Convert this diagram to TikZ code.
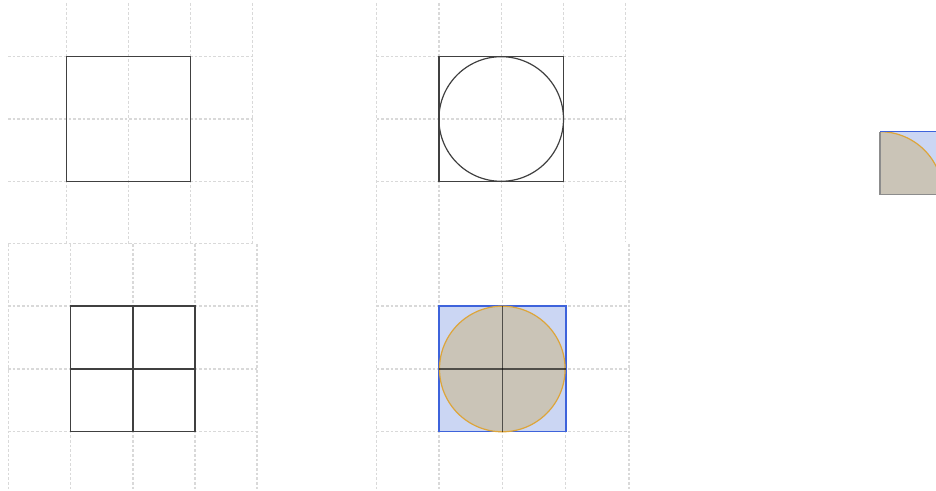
\documentclass[tikz,border=0pt]{standalone}
\usetikzlibrary{positioning}

\definecolor{gitter}{HTML}{D9D9D9}
\definecolor{blau}{HTML}{3E63DB}
\definecolor{hellblau}{HTML}{CBD6F3}
\definecolor{sand}{HTML}{CAC4B7}
\definecolor{gold}{HTML}{DDA53A}
\definecolor{rand}{HTML}{8C8C8C}

\begin{document}
\begin{tikzpicture}[x=0.75pt, y=-0.75pt,
    raster/.style={gitter, line width=0.8pt, dash pattern=on 2pt off 1.5pt},
    linie/.style={black!75, line width=1.1pt}]

    \useasboundingbox (0,0) rectangle (936,491);

    % Gitter
    \foreach \x in {66.7,128.3,190.7,252.7} \draw[raster] (\x,3) -- (\x,243.7);
    \foreach \y in {56.7,119,181.3,243.7} \draw[raster] (8,\y) -- (252.7,\y);
    \foreach \x in {8.3,70.7,133,195,257} \draw[raster] (\x,244) -- (\x,491);
    \foreach \y in {306,369,431.7} \draw[raster] (8,\y) -- (257,\y);
    \foreach \x in {376.7,439,501.2,563.3,625.7} \draw[raster] (\x,3) -- (\x,242);
    \foreach \y in {56.7,119,181.3} \draw[raster] (376.7,\y) -- (625.7,\y);
    \foreach \x in {376.7,439,502.3,565.7,629} \draw[raster] (\x,244) -- (\x,491);
    \foreach \y in {306,369,431.7} \draw[raster] (376.7,\y) -- (629,\y);

    % Quadrat
    \coordinate (q1) at (66.7,56.7);
    \draw[linie] (q1) rectangle (190.7,181.3);

    % Quadrat mit Kreis
    \coordinate (k1) at (439,56.7);
    \coordinate (m1) at (501.2,119);
    \draw[linie] (k1) rectangle (563.3,181.3);
    \draw[linie, line width=0.9pt] (m1) circle [radius=62.3];

    % Vier Felder
    \coordinate (v1) at (70.7,306);
    \coordinate (m2) at (133,369);
    \draw[linie] (v1) rectangle (195,431.7);
    \draw[linie] (70.7,369) -- (195,369);
    \draw[linie] (133,306) -- (133,431.7);

    % Gefuellt
    \coordinate (f1) at (439,306);
    \coordinate (m3) at (502.3,369);
    \draw[blau, line width=1.2pt, fill=hellblau] (f1) rectangle (565.7,431.7);
    \draw[gold, line width=0.9pt, fill=sand] (m3) circle [radius=62.8];
    \draw[black, opacity=0.6, line width=1pt] (439,369) -- (565.7,369);
    \draw[black, opacity=0.6, line width=1pt] (502.3,306) -- (502.3,431.7);

    % Viertelkreis
    \coordinate (e1) at (880,194.5);
    \fill[hellblau] (e1) rectangle (943,131.7);
    \fill[sand] (e1) -- (880,131.7) arc[start angle=-90, end angle=0, radius=62.8] -- cycle;
    \draw[gold, line width=0.9pt] (880,131.7) arc[start angle=-90, end angle=0, radius=62.8];
    \draw[blau, line width=1.2pt] (880,131.7) -- (943,131.7);
    \draw[rand, line width=1.3pt] (880,131.7) -- (e1) -- (943,194.5);

\end{tikzpicture}
\end{document}
